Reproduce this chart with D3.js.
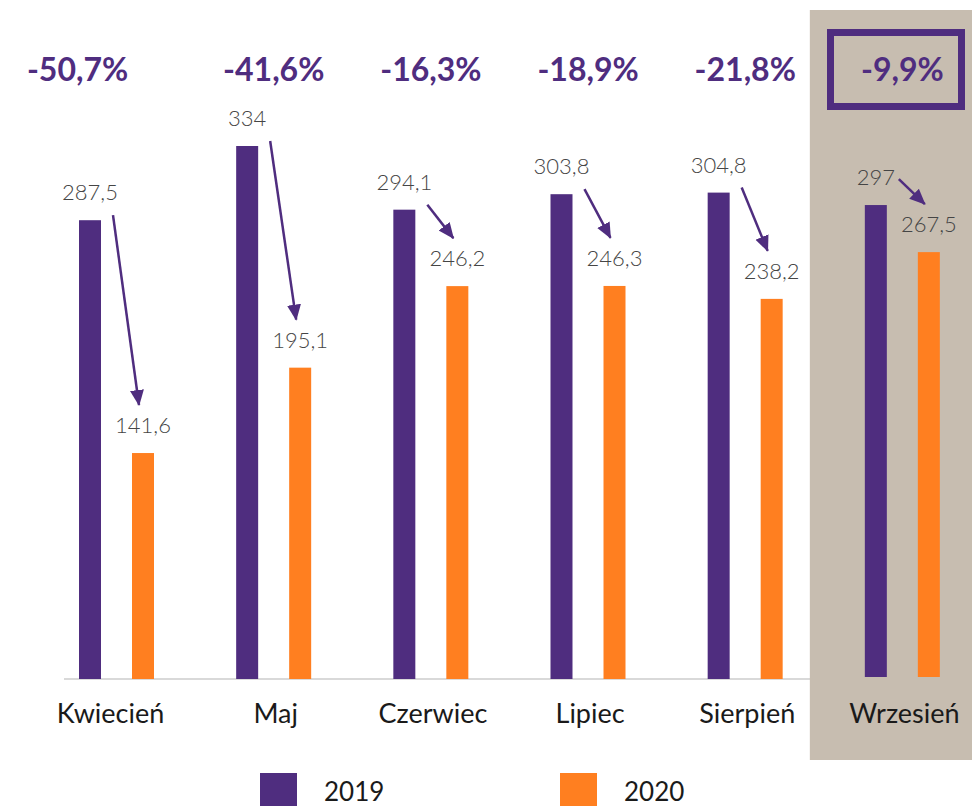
<!DOCTYPE html>
<meta charset="utf-8">
<style>
body { margin: 0; background: #fff; }
svg { display: block; font-family: Lato, "Open Sans", sans-serif; }
.val { fill: #454545; font-size: 22px; font-weight: 300; }
.pct { fill: #4f2d7f; font-size: 32px; font-weight: 700; }
.mies { fill: #1a1a1a; font-size: 27px; }
.leg { fill: #1a1a1a; font-size: 26px; }
</style>
<svg width="972" height="806"></svg>
<script src="https://d3js.org/d3.v7.min.js"></script>
<script>

// dane
var miesiace = ["Kwiecień", "Maj", "Czerwiec", "Lipiec", "Sierpień", "Wrzesień"];
var lata = ["2019", "2020"];
var v2019 = [287.5, 334, 294.1, 303.8, 304.8, 297];
var v2020 = [141.6, 195.1, 246.2, 246.3, 238.2, 267.5];
var zmiana = ["-50,7%", "-41,6%", "-16,3%", "-18,9%", "-21,8%", "-9,9%"];
var lab2019 = ["287,5", "334", "294,1", "303,8", "304,8", "297"];
var lab2020 = ["141,6", "195,1", "246,2", "246,3", "238,2", "267,5"];

var fiolet = "#4f2d7f", pomarancz = "#ff7f20";

var svg = d3.select("svg");

var x = d3.scaleBand().domain(miesiace).range([40, 983]);
var x1 = d3.scaleBand().domain(lata).range([39, 114]).paddingInner(0.585);
var y = d3.scaleLinear().domain([0, 334]).range([679, 146]);

var dane = miesiace.map((m, i) => ({m: m, i: i, a: v2019[i], b: v2020[i]}));

// linia bazowa
svg.append("line")
    .attr("x1", 64).attr("x2", 810)
    .attr("y1", y(0)).attr("y2", y(0))
    .attr("stroke", "#d9d9d9")
    .attr("stroke-width", 2);

// wyróżnienie ostatniego miesiąca
svg.append("rect")
    .attr("x", x("Wrzesień") - 16).attr("y", 10)
    .attr("width", 972 - x("Wrzesień") + 16).attr("height", 750)
    .attr("fill", "#c7bdb0");

svg.append("rect")
    .attr("x", 830.5).attr("y", 32.5)
    .attr("width", 131).attr("height", 74)
    .attr("fill", "none")
    .attr("stroke", fiolet)
    .attr("stroke-width", 7);

// słupki
var g = svg.selectAll("g.grupa")
  .data(dane)
  .enter().append("g")
    .attr("class", "grupa")
    .attr("transform", d => "translate(" + x(d.m) + ",0)");

g.append("rect")
    .attr("x", x1("2019"))
    .attr("y", d => y(d.a))
    .attr("width", x1.bandwidth())
    .attr("height", d => y(0) - y(d.a) - (d.i == 5 ? 2 : 0))
    .attr("fill", fiolet);

g.append("rect")
    .attr("x", x1("2020"))
    .attr("y", d => y(d.b))
    .attr("width", x1.bandwidth())
    .attr("height", d => y(0) - y(d.b) - (d.i == 5 ? 2 : 0))
    .attr("fill", pomarancz);

// etykiety wartości
g.append("text")
    .attr("class", "val")
    .attr("text-anchor", "middle")
    .attr("x", x1("2019") + x1.bandwidth() / 2)
    .attr("y", d => y(d.a) - 20)
    .text(d => lab2019[d.i]);

g.append("text")
    .attr("class", "val")
    .attr("text-anchor", "middle")
    .attr("x", x1("2020") + x1.bandwidth() / 2)
    .attr("y", d => y(d.b) - 20)
    .text(d => lab2020[d.i]);

// procenty
g.append("text")
    .attr("class", "pct")
    .attr("text-anchor", "middle")
    .attr("x", d => x.bandwidth() / 2 - (d.i == 0 ? 41 : 2))
    .attr("y", 81)
    .text(d => zmiana[d.i]);

// nazwy miesięcy
g.append("text")
    .attr("class", "mies")
    .attr("text-anchor", "middle")
    .attr("x", d => x.bandwidth() / 2 - (d.i == 0 ? 8 : 0))
    .attr("y", 723)
    .text(d => d.m);

// strzałki
svg.append("defs").append("marker")
    .attr("id", "grot")
    .attr("markerUnits", "userSpaceOnUse")
    .attr("viewBox", "0 -8 16 16")
    .attr("refX", 15).attr("refY", 0)
    .attr("markerWidth", 16).attr("markerHeight", 16)
    .attr("orient", "auto")
  .append("path")
    .attr("d", "M0,-7L16,0L0,7Z")
    .attr("fill", fiolet);

g.append("line")
    .attr("x1", x1("2019") + x1.bandwidth() + 12)
    .attr("y1", d => Math.min(y(d.a) - 5, y(d.b) - 48 - 25))
    .attr("x2", x1("2020") + x1.bandwidth() / 2 - 4)
    .attr("y2", d => y(d.b) - 48)
    .attr("stroke", fiolet)
    .attr("stroke-width", 2.5)
    .attr("marker-end", "url(#grot)");

// legenda
var leg = svg.append("g").selectAll("g")
  .data(lata)
  .enter().append("g")
    .attr("transform", (d, i) => "translate(" + (260 + i * 300) + ",773)");

leg.append("rect")
    .attr("width", 37).attr("height", 33)
    .attr("fill", (d, i) => i == 0 ? fiolet : pomarancz);

leg.append("text")
    .attr("class", "leg")
    .attr("x", 64).attr("y", 28)
    .text(d => d);

</script>
